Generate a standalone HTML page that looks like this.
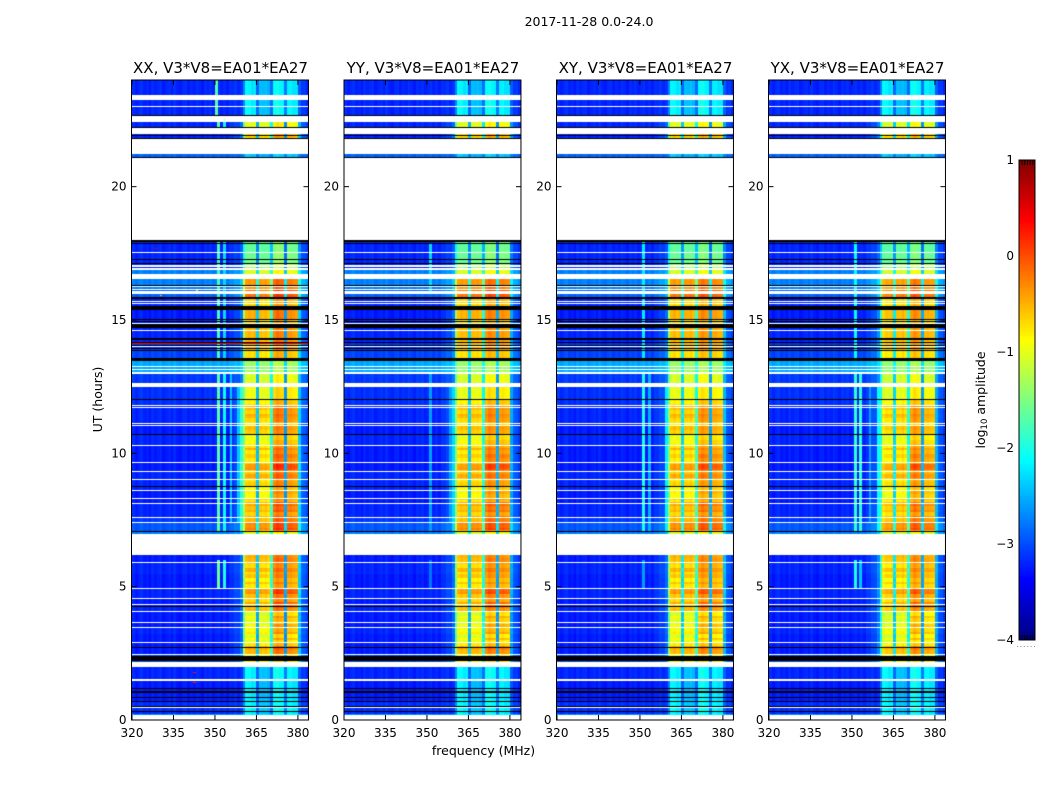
<!DOCTYPE html>
<html>
<head>
<meta charset="utf-8">
<title>2017-11-28 0.0-24.0</title>
<style>
html,body{margin:0;padding:0;background:#fff;}
#stage{position:relative;width:1050px;height:800px;overflow:hidden;background:#fff;}
canvas{position:absolute;display:block;}
svg{position:absolute;left:0;top:0;}
text{font-family:"DejaVu Sans","Liberation Sans",sans-serif;fill:#000;}
</style>
</head>
<body>
<div id="stage">
<svg id="overlay" width="1050" height="800" viewBox="0 0 1050 800">
<text x="589" y="26" text-anchor="middle" font-size="12.5">2017-11-28 0.0-24.0</text>
<text x="483.5" y="755" text-anchor="middle" font-size="12.5">frequency (MHz)</text>
<text transform="translate(102,399.5) rotate(-90)" text-anchor="middle" font-size="12.5">UT (hours)</text>
<text transform="translate(985,400) rotate(-90)" text-anchor="middle" font-size="12.5">log<tspan font-size="8.5" dy="2">10</tspan><tspan dy="-2"> amplitude</tspan></text>
</svg>
</div>
<script>
// ---- Data (hours, MHz, log10 amplitude) ----
const panelTitles = ["XX, V3*V8=EA01*EA27","YY, V3*V8=EA01*EA27","XY, V3*V8=EA01*EA27","YX, V3*V8=EA01*EA27"];
const xTickValues = [320,335,350,365,380];
const yTickValues = [0,5,10,15,20];
const colorbarTicks = [1,0,-1,-2,-3,-4];
const colorbarTickLabels = ["1","0","\u22121","\u22122","\u22123","\u22124"];

// Time bands: rowEdges[i]..rowEdges[i+1]
const rowEdges = [0,0.25,0.7,1.5,2.19,2.46,2.72,2.9,3.2,3.47,3.67,4.05,4.32,4.56,4.75,4.95,5.2,5.5,5.9,6.2,6.97,7.07,7.4,7.6,8.1,8.6,9,9.33,9.66,10,10.3,10.7,11.1,11.4,11.8,12,12.5,13,13.5,13.9,14.1,14.7,15,15.37,15.52,15.8,16.1,16.53,16.71,16.9,17.1,17.55,18,21.08,21.78,22.2,22.66,23.43,24];
// Level outside the observing band, for each time band
const rowOutLevels = [-2.7,-3.15,-3.25,-3.2,-3,-3.25,-3.25,-3.25,-3.2,-3.25,-3.25,-3.2,-3.25,-3.2,-3.2,-3.25,-3.25,-3.2,-3.25,-3.2,-2.75,-2.95,-3.1,-3.2,-3.25,-3.2,-3.2,-3.25,-3.25,-3.25,-3.2,-3.25,-3.2,-3.2,-3.15,-3.15,-3.1,-2.55,-3.05,-3.1,-3.2,-3.2,-3.25,-3.1,-3.2,-2.9,-2.75,-2.75,-2.75,-3.2,-3.2,-3.2,-3,-2.9,-3.2,-3.2,-3.2,-3.2];
// Level inside the observing band, for each time band
const rowInLevels = [-2.15,-2.15,-2.2,-2.15,-0.8,-0.55,-0.6,-0.75,-0.6,-0.7,-0.75,-0.6,-0.55,-0.6,-0.5,-0.65,-0.6,-0.55,-0.6,-0.7,-1,-0.45,-0.5,-0.55,-0.6,-0.6,-0.5,-0.5,-0.6,-0.55,-0.65,-0.65,-0.55,-0.5,-0.65,-0.75,-1,-1.35,-0.65,-0.45,-0.45,-0.65,-0.4,0,-0.6,-0.1,-0.3,-0.3,-1,-1.3,-1.55,-1.6,-1.6,-2.4,-0.6,-0.95,-2.15,-2.2];

// Fine in-band stripes: stripeEdges[i]..stripeEdges[i+1], offset for the two lower and two upper sub-bands
const stripeEdges = [2.46,2.6,2.74,2.9,3,3.1,3.2,3.32,3.47,3.58,3.67,3.8,3.92,4.08,4.2,4.34,4.45,4.58,4.7,4.82,4.96,5.08,5.2,5.33,5.45,5.55,5.7,5.82,5.93,6.1,6.2,7.09,7.22,7.33,7.43,7.55,7.65,7.78,7.9,8.02,8.14,8.25,8.35,8.5,8.65,8.8,8.92,9.05,9.2,9.35,9.47,9.6,9.7,9.85,9.97,10.1,10.22,10.35,10.5,10.73,10.87,11,11.15,11.3,11.45,11.6,11.75,11.85,12,12.5];
const stripeLower = [0.1,0.2,-0.1,-0.2,-0.05,-0.2,-0.1,-0.2,-0.15,-0.25,-0.2,-0.1,-0.25,0.15,0.05,0.2,-0.05,0.1,0.25,0.2,-0.05,0.15,-0.15,0.1,-0.1,0.15,-0.1,0,0.15,0.2,0,0.3,0.2,0.3,0.05,0.15,-0.05,0.15,0.05,0.2,-0.1,0.05,-0.2,-0.15,-0.2,0.05,-0.05,0.15,-0.05,0.25,0.2,-0.05,-0.1,0.05,-0.15,0.15,-0.1,-0.15,-0.25,0.1,0.2,-0.15,-0.05,0.1,-0.1,0.05,0,-0.1,-0.15];
const stripeUpper = [0.15,0.25,-0.1,-0.1,0.15,-0.1,0.1,-0.05,0.15,-0.1,0.05,0.2,-0.05,0.2,0.3,0.35,0.05,0.2,0.4,0.35,0.05,0.2,0,0.15,0.05,0.2,0.05,0.15,0.25,0.2,0,0.4,0.3,0.35,0.2,0.3,0.05,0.3,0.2,0.35,0,0.15,0,0.1,-0.05,0.15,0.1,0.2,0.1,0.4,0.45,0.1,0.2,0.3,0.1,0.2,0.05,0,-0.1,0.15,0.2,-0.1,0.1,0.15,0.05,0.1,-0.05,0,-0.1];

// Masked (white) and zero (black) time intervals
const whiteGaps = [[23.25,23.43],[22.98,23.02],[22.43,22.66],[21.97,22.2],[21.23,21.78],[18,21.08],[17.51,17.55],[16.98,17.06],[16.89,16.95],[16.53,16.71],[16.25,16.29],[16.13,16.17],[15.97,16.07],[15.68,15.72],[15.61,15.65],[14.86,14.9],[14.58,14.62],[13.98,14.02],[13.23,13.27],[13.14,13.18],[12.97,13.05],[12.49,12.64],[11.78,11.82],[11.7,11.74],[11.11,11.15],[11.01,11.05],[10.29,10.33],[9.64,9.68],[9.31,9.35],[9.01,9.05],[8.59,8.63],[8.29,8.33],[8.1,8.14],[7.59,7.63],[7.39,7.43],[6.19,6.97],[5.89,5.93],[4.92,4.96],[4.54,4.58],[4.3,4.34],[4.04,4.08],[3.65,3.69],[3.45,3.49],[2.89,2.93],[2.44,2.48],[2,2.19],[1.48,1.53],[0.46,0.5],[0,0.17]];
const blackGaps = [[22.66,22.7],[22.19,22.22],[21.89,21.92],[21.8,21.83],[21.1,21.13],[17.93,18],[17.86,17.89],[17.26,17.29],[17.09,17.12],[16.3,16.33],[15.83,15.86],[15.78,15.81],[15.37,15.52],[15.02,15.05],[14.95,14.98],[14.71,14.87],[14.25,14.33],[14.15,14.18],[14.05,14.08],[13.92,13.95],[13.86,13.89],[13.45,13.56],[12,12.03],[10.7,10.73],[8.75,8.78],[7.06,7.09],[4.25,4.28],[2.71,2.74],[2.2,2.41],[1.16,1.2],[1.03,1.07],[0.82,0.88],[0.67,0.71],[0.5,0.54],[0.32,0.35]];

// Channel start frequencies are firstChannel + index (1 MHz wide)
const firstChannel = 320;
const channelRipple = [0.04,-0.05,0.02,0.07,-0.03,0.01,-0.07,0.05,-0.02,0.03,0.06,-0.06,0,0.04,-0.04,0.07,-0.02,-0.06,0.03,0.05,-0.05,0.02,-0.03,0.06,0.01,-0.07,0.04,-0.01,0.05,-0.04,0.02,0.06,-0.03,0.03,-0.06,0.04,0.01,0.07,-0.02,0.05,-0.04,0.06,0.03,-0.05,0.04,-0.03,0.06,-0.02,0.05,0.02,-0.04,0.03,0.07,-0.01,0.04,-0.03,0.05,0.02,-0.05,0.04,0.06,-0.02,0.03,-0.06];

// Spectral response per channel (0 = out-of-band level, 1 = in-band level), strong-signal hours
const weightsXX = [0,0,0,0,0,0,0,0,0,0,0,0,0,0,0,0,0,0,0,0,0,0,0,0,0,0,0,0,0,0,0,0,0,0.01,0.01,0.02,0.03,0.05,0.08,0.14,0.72,0.94,0.97,0.98,0.98,0.32,0.94,0.95,0.95,0.92,0.5,1.05,1.08,1.08,1.05,0.24,1.01,1.03,1.03,0.98,0.3,0.14,0.1,0.08];
const weightsYY = [0,0,0,0,0,0,0,0,0,0,0,0,0,0,0,0,0,0,0,0,0,0,0,0,0,0,0,0,0,0,0,0,0,0.01,0.01,0.02,0.03,0.05,0.08,0.14,0.68,0.92,0.96,0.97,0.96,0.34,0.95,0.97,0.96,0.94,0.46,1.02,1.05,1.05,1.02,0.26,1,1.03,1.03,0.98,0.22,0.12,0.08,0.06];
const weightsXY = [0,0,0,0,0,0,0,0,0,0,0,0,0,0,0,0,0,0,0,0,0,0,0,0,0,0,0,0,0,0,0,0,0,0.01,0.01,0.02,0.03,0.05,0.08,0.13,0.68,0.93,0.97,0.96,0.96,0.38,0.95,0.97,0.97,0.94,0.5,1,1.03,1.03,1,0.26,0.98,1,1,0.96,0.26,0.12,0.08,0.06];
const weightsYX = [0,0,0,0,0,0,0,0,0,0,0,0,0,0,0,0,0,0,0,0,0,0,0,0,0,0,0,0,0,0,0,0,0.01,0.01,0.02,0.03,0.04,0.06,0.1,0.18,0.5,0.88,0.93,0.95,0.94,0.38,0.93,0.95,0.96,0.93,0.46,0.99,1.03,1.03,0.99,0.26,0.95,0.97,0.98,0.94,0.24,0.12,0.08,0.06];
// Spectral response in weak-signal hours, when the sub-band pattern differs
const lowSignalWeights = [0,0,0,0,0,0,0,0,0,0,0,0,0,0,0,0,0,0,0,0,0,0,0,0,0,0,0,0,0,0,0,0,0,0,0.01,0.01,0.01,0.02,0.02,0.03,0.5,1,1,0.98,0.95,0.35,0.7,0.75,0.72,0.68,0.4,1.05,1.08,1.05,0.98,0.45,0.95,1,0.98,0.9,0.22,0.1,0.08,0.06];
const lowSignalThreshold = -1.85;

// Narrow-band interference: [MHz, start hour, end hour, level]
const rfiXX = [[350.7,4.95,6,-1.6],[352.9,4.95,6,-2],[350.7,7.1,13,-1.7],[352.9,7.1,13,-2.1],[355.3,7.4,13,-2.4],[358,7.4,12.5,-2.4],[359,7.1,12.5,-1.9],[350.7,13.5,18,-1.8],[352.9,13.5,18,-2.3],[350,22.7,24,-1.7],[350.7,21.97,22.5,-1.7],[352.9,21.97,22.5,-2.1]];
const rfiYY = [[350.7,16,17.9,-2.3],[350.7,7.1,13,-2.6],[358,7.4,12.5,-2.6],[359,7.1,12.5,-2.3],[350.7,4.95,6,-2.8]];
const rfiXY = [[350.7,7.1,13,-2],[352.9,7.1,13,-2.5],[359,7.1,12.5,-2.2],[350.7,13.5,18,-2.2],[350.7,4.95,6,-2.6]];
const rfiYX = [[350.7,7.1,13,-1.9],[352.6,7.1,13,-1.9],[356,7.4,12.5,-2.6],[359,7.1,12.5,-2.1],[350.7,4.95,6,-2],[352.6,4.95,6,-2.4],[350.7,13.5,18,-2.1]];
// Isolated bright samples: [MHz, hour, level]
const spikesXX = [[342,1.98,0.5],[342,1.75,0.3],[342,1.4,0.2],[328,17.85,0.4],[328,17.65,0.6],[343,16.1,-0.6],[330,15.9,-0.5],[339,13.9,-1]];
const burstXX = [[14.09,14.13,0.45]];

const panelWeights = [weightsXX,weightsYY,weightsXY,weightsYX];
const panelRfi = [rfiXX,rfiYY,rfiXY,rfiYX];
const panelSpikes = [spikesXX,[],[],[]];
const panelBursts = [burstXX,[],[],[]];

// ---- Axis functions ----
const panelLefts = [131.5,344,556.5,768.5];
const axisTop = 80, axisBottom = 720, pxPerMHz = 2.765, pxPerHour = 640/24;
const axisWidth = 64*pxPerMHz;
const cellHours = 2/pxPerHour;
function xScale(mhz){ return (mhz-320)*pxPerMHz; }
function yScale(hour){ return (axisBottom-axisTop)-hour*pxPerHour; }
function normLevel(v){ return Math.max(0,Math.min(1,(v+4)/5)); }
function jetChannel(x){ return Math.round(255*Math.max(0,Math.min(1,1.5-Math.abs(x)*4))); }
function jet(v){
  const n = normLevel(v);
  return 'rgb('+jetChannel(n-0.75)+','+jetChannel(n-0.5)+','+jetChannel(n-0.25)+')';
}
function findBand(edges,hour){
  for(let i=0;i<edges.length-1;i++){
    if(hour>=edges[i] && hour<edges[i+1]) return i;
  }
  return -1;
}

const stage = document.getElementById('stage');
const overlay = document.getElementById('overlay');
const NS = 'http://www.w3.org/2000/svg';

function fillBand(ctx,x0,x1,h0,h1,color){
  const top = Math.round(yScale(h1));
  let bot = Math.round(yScale(h0));
  if(bot<=top) bot = top+1;
  ctx.fillStyle = color;
  ctx.fillRect(x0,top,x1-x0,bot-top);
}

panelTitles.forEach(function(title,p){
  const left = panelLefts[p];
  const canvasLeft = Math.round(left);
  const cv = document.createElement('canvas');
  
  
  cv.width = Math.ceil(axisWidth);
  cv.height = axisBottom-axisTop;
  cv.style.left = canvasLeft+'px';
  cv.style.top = axisTop+'px';
  stage.insertBefore(cv,overlay);
  const ctx = cv.getContext('2d');
  const weights = panelWeights[p];
  const cellCount = Math.ceil(24/cellHours);
  for(let i=0;i<cellCount;i++){
    const h0 = i*cellHours, h1 = (i+1)*cellHours, mid = (h0+h1)/2;
    const r = findBand(rowEdges,mid);
    if(r<0) continue;
    const s = findBand(stripeEdges,mid);
    const out = rowOutLevels[r], inn = rowInLevels[r];
    const spectrum = inn<=lowSignalThreshold ? lowSignalWeights : weights;
    for(let c=0;c<spectrum.length;c++){
      const mhz = firstChannel+c;
      const x0 = Math.round(xScale(mhz));
      const x1 = Math.round(xScale(mhz+1));
      let stripe = 0;
      if(s>=0 && s<stripeLower.length) stripe = mhz<370 ? stripeLower[s] : stripeUpper[s];
      const value = out+spectrum[c]*(inn+stripe-out)+channelRipple[c];
      fillBand(ctx,x0,x1,h0,h1,jet(value));
    }
  }
  panelRfi[p].forEach(function(d){
    fillBand(ctx,Math.round(xScale(d[0])),Math.round(xScale(d[0]+1)),d[1],d[2],jet(d[3]));
  });
  panelBursts[p].forEach(function(d){
    fillBand(ctx,0,cv.width,d[0],d[1],jet(d[2]));
  });
  panelSpikes[p].forEach(function(d){
    fillBand(ctx,Math.round(xScale(d[0])),Math.round(xScale(d[0]+1)),d[1],d[1]+0.04,jet(d[2]));
  });
  blackGaps.forEach(function(g){ fillBand(ctx,0,cv.width,g[0],g[1],'#000'); });
  whiteGaps.forEach(function(g){ fillBand(ctx,0,cv.width,g[0],g[1],'#fff'); });

  // Panel title
  const t = document.createElementNS(NS,'text');
  
  
  t.setAttribute('x',left+89);
  t.setAttribute('y',73);
  t.setAttribute('text-anchor','middle');
  t.setAttribute('font-size','15');
  t.textContent = title;
  overlay.appendChild(t);

  // Frame
  const frame = document.createElementNS(NS,'rect');
  
  
  frame.setAttribute('x',left);
  frame.setAttribute('y',axisTop);
  frame.setAttribute('width',axisWidth);
  frame.setAttribute('height',axisBottom-axisTop);
  frame.setAttribute('fill','none');
  frame.setAttribute('stroke','#000');
  frame.setAttribute('stroke-width','1');
  overlay.appendChild(frame);

  // X ticks
  xTickValues.forEach(function(v){
    const x = canvasLeft+xScale(v);
    [[axisBottom,axisBottom-5],[axisTop,axisTop+5]].forEach(function(s){
      const l = document.createElementNS(NS,'line');
      
      
      l.setAttribute('x1',x);
      l.setAttribute('x2',x);
      l.setAttribute('y1',s[0]);
      l.setAttribute('y2',s[1]);
      l.setAttribute('stroke','#000');
      overlay.appendChild(l);
    });
    const lab = document.createElementNS(NS,'text');
    
    
    lab.setAttribute('x',x);
    lab.setAttribute('y',737);
    lab.setAttribute('text-anchor','middle');
    lab.setAttribute('font-size','12');
    lab.textContent = String(v);
    overlay.appendChild(lab);
  });

  // Y ticks
  yTickValues.forEach(function(v){
    const y = axisTop+yScale(v);
    [[left,left+5],[left+axisWidth,left+axisWidth-5]].forEach(function(s){
      const l = document.createElementNS(NS,'line');
      
      
      l.setAttribute('x1',s[0]);
      l.setAttribute('x2',s[1]);
      l.setAttribute('y1',y);
      l.setAttribute('y2',y);
      l.setAttribute('stroke','#000');
      overlay.appendChild(l);
    });
    const lab = document.createElementNS(NS,'text');
    
    
    lab.setAttribute('x',left-5);
    lab.setAttribute('y',y+4);
    lab.setAttribute('text-anchor','end');
    lab.setAttribute('font-size','12');
    lab.textContent = String(v);
    overlay.appendChild(lab);
  });
});

// ---- Colorbar ----
const cbLeft = 1019, cbTop = 160, cbWidth = 16, cbHeight = 480;
function cbScale(v){ return (1-v)/5*cbHeight; }
const cb = document.createElement('canvas');


cb.width = cbWidth;
cb.height = cbHeight;
cb.style.left = cbLeft+'px';
cb.style.top = cbTop+'px';
stage.insertBefore(cb,overlay);
const cbCtx = cb.getContext('2d');
for(let py=0;py<cbHeight;py++){
  cbCtx.fillStyle = jet(1-(py+0.5)/cbHeight*5);
  cbCtx.fillRect(0,py,cbWidth,1);
}
const cbFrame = document.createElementNS(NS,'rect');


cbFrame.setAttribute('x',cbLeft);
cbFrame.setAttribute('y',cbTop);
cbFrame.setAttribute('width',cbWidth);
cbFrame.setAttribute('height',cbHeight);
cbFrame.setAttribute('fill','none');
cbFrame.setAttribute('stroke','#000');
overlay.appendChild(cbFrame);
colorbarTicks.forEach(function(v,i){
  const lab = document.createElementNS(NS,'text');
  
  
  lab.setAttribute('x',cbLeft-5);
  lab.setAttribute('y',cbTop+cbScale(v)+4);
  lab.setAttribute('text-anchor','end');
  lab.setAttribute('font-size','12');
  lab.textContent = colorbarTickLabels[i];
  overlay.appendChild(lab);
});
for(let i=1;i<=5;i++){
  const tx = cbLeft+i*cbWidth/6+0.5;
  [[cbTop,cbTop+5],[cbTop+cbHeight,cbTop+cbHeight-5]].forEach(function(s){
    const l = document.createElementNS(NS,'line');
    
    
    l.setAttribute('x1',tx);
    l.setAttribute('x2',tx);
    l.setAttribute('y1',s[0]);
    l.setAttribute('y2',s[1]);
    l.setAttribute('stroke','#000');
    overlay.appendChild(l);
  });
}
for(let i=0;i<6;i++){
  const d = document.createElementNS(NS,'rect');
  
  
  d.setAttribute('x',1017+i*3.4);
  d.setAttribute('y',646);
  d.setAttribute('width',1);
  d.setAttribute('height',1);
  d.setAttribute('fill','#888');
  overlay.appendChild(d);
}
</script>
</body>
</html>
